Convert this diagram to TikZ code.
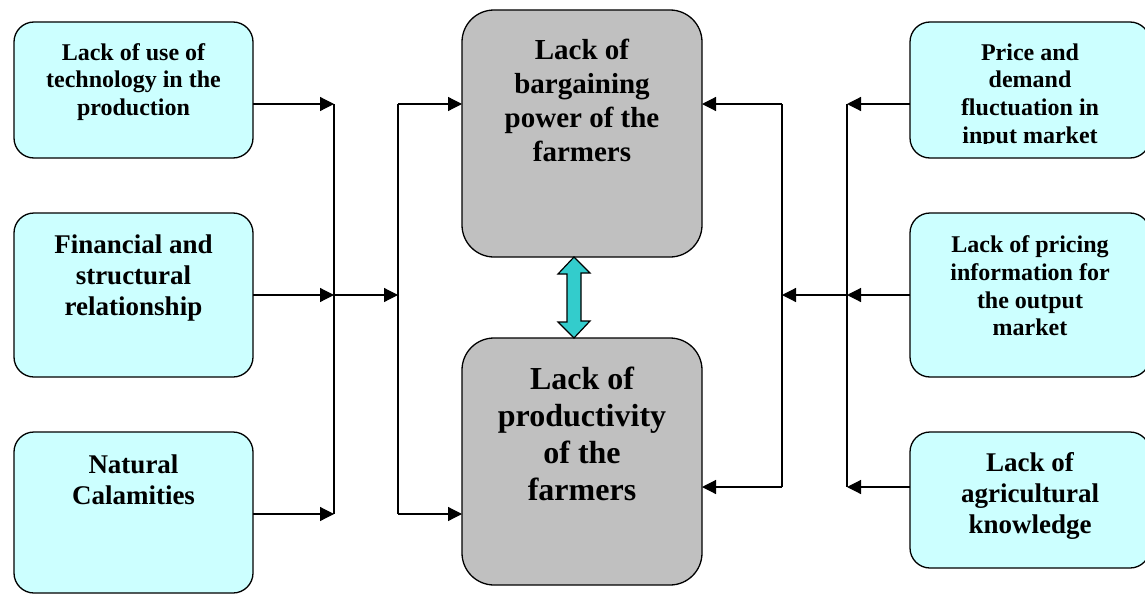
\documentclass[tikz,border=0pt]{standalone}
\usepackage{fontspec}
\setmainfont{Liberation Serif}
\usetikzlibrary{arrows.meta,positioning}

\definecolor{causefill}{HTML}{CCFFFF}
\definecolor{effectfill}{HTML}{C0C0C0}
\definecolor{linkfill}{HTML}{33CCCC}

\tikzset{
  cause/.style={draw, line width=1.3pt, rounded corners=20pt, fill=causefill,
    minimum width=239pt, outer sep=0pt},
  effect/.style={draw, line width=1.3pt, rounded corners=32pt, fill=effectfill,
    minimum width=240pt, minimum height=247pt, outer sep=0pt},
  lblS/.style={align=center, inner sep=0pt, font=\bfseries\fontsize{24pt}{27.6pt}\selectfont},
  lblM/.style={align=center, inner sep=0pt, font=\bfseries\fontsize{27pt}{31pt}\selectfont},
  lblL/.style={align=center, inner sep=0pt, font=\bfseries\fontsize{29pt}{34pt}\selectfont},
  lblXL/.style={align=center, inner sep=0pt, font=\bfseries\fontsize{32pt}{37pt}\selectfont},
  arr/.style={line width=1.2pt, -{Triangle[length=14pt,width=14pt]}},
  bus/.style={line width=1.2pt},
  link/.style={draw, line width=1.2pt, fill=linkfill, line join=miter}
}

\begin{document}
\begin{tikzpicture}[x=1pt,y=-1pt]
	\clip (0,0) rectangle (1145,594);
	% left causes
	\node[cause, minimum height=136pt] (L1) at (133.5,90) {};
	\node[cause, minimum height=164pt, below=55pt of L1] (L2) {};
	\node[cause, minimum height=161pt, below=55pt of L2] (L3) {};
	\node[lblS] (L1t) at ([yshift=-60pt]L1.north) {Lack of use of\\technology in the\\production};
	\node[lblM] (L2t) at ([yshift=-65pt]L2.north) {Financial and\\structural\\relationship};
	\node[lblM] (L3t) at ([yshift=-48pt]L3.north) {Natural\\Calamities};
	
	% centre effects
	\node[effect] (C1) at (582,133.5) {};
	\node[effect, below=81pt of C1] (C2) {};
	\node[lblL] (C1t) at ([yshift=-90pt]C1.north) {Lack of\\bargaining\\power of the\\farmers};
	\node[lblXL] (C2t) at ([yshift=-96pt]C2.north) {Lack of\\productivity\\of the\\farmers};
	
	% right causes
	\node[cause, minimum width=240pt, minimum height=136pt] (R1) at (1030,90) {};
	\node[cause, minimum width=240pt, minimum height=164pt, below=55pt of R1] (R2) {};
	\node[cause, minimum width=240pt, minimum height=136pt, below=55pt of R2] (R3) {};
	\begin{scope}
		\clip (R1.north west) rectangle ([yshift=15pt]R1.south east);
		\node[lblS] (R1t) at ([yshift=-74pt]R1.north) {Price and\\demand\\fluctuation in\\input market};
	\end{scope}
	\node[lblS] (R2t) at ([yshift=-73pt]R2.north) {Lack of pricing\\information for\\the output\\market};
	\node[lblM] (R3t) at ([yshift=-64pt]R3.north) {Lack of\\agricultural\\knowledge};
	
	% bus lines
	\coordinate (busA1) at (334,104);
	\coordinate (busA3) at (334,514);
	\coordinate (busB1) at (398,104);
	\coordinate (busB3) at (398,514);
	\coordinate (busC1) at (782,104);
	\coordinate (busC3) at (782,487);
	\coordinate (busD1) at (847,104);
	\coordinate (busD3) at (847,487);
	\draw[bus] (busA1) -- (busA3);
	\draw[bus] (busB1) -- (busB3);
	\draw[bus] (busC1) -- (busC3);
	\draw[bus] (busD1) -- (busD3);
	
	% Arrows
	\draw[arr] (L1.east |- busA1) -- (busA1);
	\draw[arr] (L2.east) -- (L2.east -| busA1);
	\draw[arr] (L3.east |- busA3) -- (busA3);
	\draw[arr] (L2.east -| busA1) -- (L2.east -| busB1);
	\draw[arr] (busB1) -- (busB1 -| C1.west);
	\draw[arr] (busB3) -- (busB3 -| C2.west);
	\draw[arr] (R1.west |- busD1) -- (busD1);
	\draw[arr] (R2.west) -- (R2.west -| busD1);
	\draw[arr] (R3.west |- busD3) -- (busD3);
	\draw[arr] (R2.west -| busD1) -- (R2.west -| busC1);
	\draw[arr] (busC1) -- (busC1 -| C1.east);
	\draw[arr] (busC3) -- (busC3 -| C2.east);
	
	% two-way link
	\draw[link] ([xshift=-8pt]C1.south) -- ++(16,16) -- ++(-9,0) -- ++(0,48) -- ++(9,0)
		-- ([xshift=-8pt]C2.north) -- ++(-16,-16) -- ++(9,0) -- ++(0,-48) -- ++(-9,0) -- cycle;
\end{tikzpicture}
\end{document}
